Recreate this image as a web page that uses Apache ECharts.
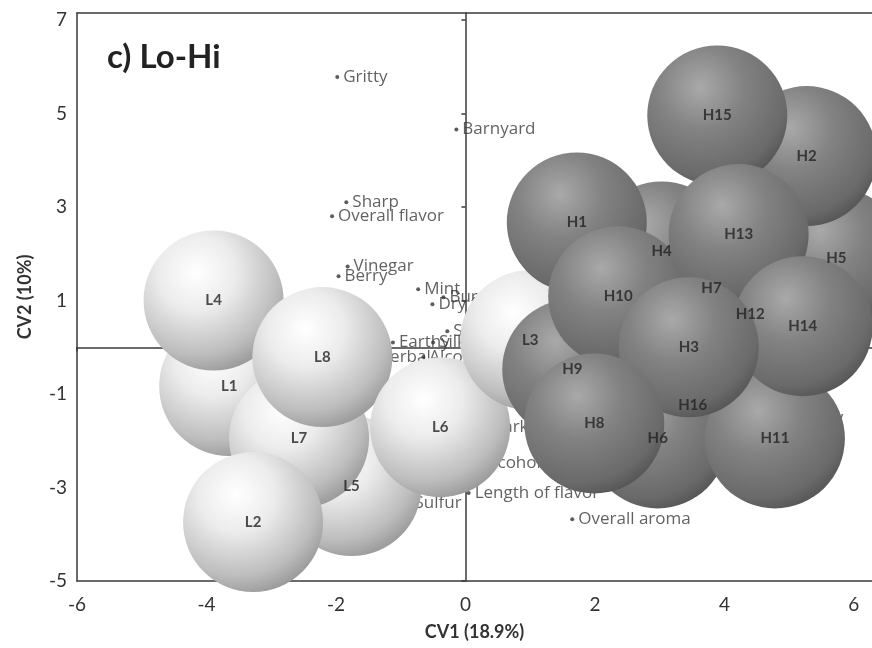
<!DOCTYPE html>
<html>
<head>
<meta charset="utf-8">
<script src="https://cdn.jsdelivr.net/npm/echarts@6/dist/echarts.min.js"></script>
<style>
  html, body { margin: 0; padding: 0; background: #fff; }
  #chart { width: 872px; height: 648px; }
</style>
</head>
<body>
<div id="chart"></div>
<script>
// low-group samples (light spheres), listed back to front
var lowNames = ['L1', 'L5', 'L7', 'L2', 'L4', 'L8', 'L6', 'L3'];
var lowX = [-3.65, -1.76, -2.57, -3.28, -3.89, -2.21, -0.39, 1.0];
var lowY = [-0.83, -2.97, -1.95, -3.74, 1.0, -0.21, -1.71, 0.15];

// high-group samples (dark spheres), listed back to front
var highNames = ['H16', 'H12', 'H7', 'H4', 'H9', 'H6', 'H5', 'H2', 'H15', 'H1', 'H10', 'H13', 'H11', 'H14', 'H3', 'H8'];
var highX = [3.51, 4.40, 3.80, 3.03, 1.65, 2.97, 5.73, 5.27, 3.89, 1.72, 2.36, 4.22, 4.78, 5.21, 3.45, 1.99];
var highY = [-1.24, 0.71, 1.26, 2.05, -0.47, -1.95, 1.90, 4.09, 4.96, 2.67, 1.09, 2.42, -1.95, 0.45, 0.0, -1.63];

// sensory attributes (small dots)
var attrNames = ['Gritty', 'Barnyard', 'Sharp', 'Overall flavor', 'Vinegar', 'Berry', 'Mint', 'Burning', 'Dry fruit',
  'Spicy', 'Earthy', 'Silky', 'Herbal', 'Alcohol', 'Caramel', 'Yeast', 'Dark fruit', 'Alcohol', 'Length of flavor',
  'Sulfur', 'Overall aroma', 'Sweet', 'Fruity'];
var attrX = [-1.98, -0.14, -1.84, -2.06, -1.82, -1.96, -0.73, -0.34, -0.51,
  -0.28, -1.12, -0.50, -1.45, -0.65, 0.33, 0.2, 0.3, 0.17, 0.05,
  -0.88, 1.65, 3.25, 5.05];
var attrY = [5.78, 4.66, 3.10, 2.80, 1.73, 1.52, 1.24, 1.07, 0.92,
  0.34, 0.10, 0.10, -0.21, -0.21, -0.60, -1.02, -1.70, -2.48, -3.12,
  -3.33, -3.68, -2.14, -1.52];

var xTicks = [-6, -4, -2, 0, 2, 4, 6];
var yTicks = [-5, -3, -1, 1, 3, 5, 7];

function pts(xs, ys) {
  var out = [];
  for (var i = 0; i < xs.length; i++) out.push([xs[i], ys[i]]);
  return out;
}

var lightBall = {
  type: 'radial', x: 0.38, y: 0.3, r: 0.78,
  colorStops: [
    { offset: 0, color: '#ffffff' },
    { offset: 0.35, color: '#ececec' },
    { offset: 0.75, color: '#bdbdbd' },
    { offset: 1, color: '#8f8f8f' }
  ]
};
var darkBall = {
  type: 'radial', x: 0.38, y: 0.3, r: 0.78,
  colorStops: [
    { offset: 0, color: '#a9a9a9' },
    { offset: 0.4, color: '#828282' },
    { offset: 0.8, color: '#6a6a6a' },
    { offset: 1, color: '#4e4e4e' }
  ]
};

var tickFont = 'Lato, "Noto Sans", sans-serif';
var axisStyle = { color: '#3a3a3a', width: 1.5 };
var XMIN = -6, XMAX = 6.28, YMIN = -5, YMAX = 7.15;

var chart = echarts.init(document.getElementById('chart'));
var option = {
  animation: false,
  title: {
    text: 'c) Lo-Hi',
    left: 102, top: 36,
    textStyle: { fontFamily: tickFont, fontSize: 33, fontWeight: 'bold', color: '#222' }
  },
  grid: { left: 77, top: 13, right: 0, bottom: 67 },
  xAxis: [{
    // bottom frame edge with labels
    type: 'value', min: XMIN, max: XMAX, position: 'bottom',
    name: 'CV1 (18.9%)', nameLocation: 'middle', nameGap: 42,
    nameTextStyle: { fontFamily: tickFont, fontSize: 18, fontWeight: 'bold', color: '#333' },
    axisLine: { show: true, onZero: false, lineStyle: axisStyle },
    axisTick: { show: false },
    splitLine: { show: false },
    axisLabel: { customValues: xTicks, fontFamily: tickFont, fontSize: 19, color: '#333', margin: 14 }
  }, {
    // horizontal line through y = 0
    type: 'value', min: XMIN, max: XMAX, position: 'bottom',
    axisLine: { show: true, onZero: true, onZeroAxisIndex: 0, lineStyle: axisStyle },
    axisTick: { show: true, customValues: xTicks, length: 4, lineStyle: axisStyle },
    axisLabel: { show: false },
    splitLine: { show: false }
  }, {
    // top frame edge
    type: 'value', min: XMIN, max: XMAX, position: 'top',
    axisLine: { show: true, onZero: false, lineStyle: axisStyle },
    axisTick: { show: false },
    axisLabel: { show: false },
    splitLine: { show: false }
  }],
  yAxis: [{
    type: 'value', min: YMIN, max: YMAX, position: 'left',
    name: 'CV2 (10%)', nameLocation: 'middle', nameGap: 43,
    nameTextStyle: { fontFamily: tickFont, fontSize: 18, fontWeight: 'bold', color: '#333' },
    axisLine: { show: true, onZero: false, lineStyle: axisStyle },
    axisTick: { show: false },
    splitLine: { show: false },
    axisLabel: { customValues: yTicks, fontFamily: tickFont, fontSize: 19, color: '#333', margin: 10 }
  }, {
    // vertical line through x = 0
    type: 'value', min: YMIN, max: YMAX, position: 'left',
    axisLine: { show: true, onZero: true, onZeroAxisIndex: 0, lineStyle: axisStyle },
    axisTick: { show: true, customValues: yTicks, length: 4, lineStyle: axisStyle },
    axisLabel: { show: false },
    splitLine: { show: false }
  }],
  series: [{
    name: 'attributes', type: 'scatter', z: 2,
    data: pts(attrX, attrY),
    symbolSize: 4,
    itemStyle: { color: '#333' },
    label: {
      show: true, position: 'right', distance: 4,
      formatter: function (p) { return attrNames[p.dataIndex]; },
      fontFamily: '"Open Sans", sans-serif', fontSize: 17, color: '#3a3a3a'
    }
  }, {
    name: 'low', type: 'scatter', z: 3,
    data: pts(lowX, lowY),
    symbolSize: 140,
    itemStyle: { color: lightBall, opacity: 1 }
  }, {
    name: 'high', type: 'scatter', z: 4,
    data: pts(highX, highY),
    symbolSize: 140,
    itemStyle: { color: darkBall, opacity: 1 }
  }, {
    name: 'low labels', type: 'scatter', z: 6,
    data: pts(lowX, lowY), symbolSize: 0,
    label: {
      show: true, position: 'inside',
      formatter: function (p) { return lowNames[p.dataIndex]; },
      fontFamily: tickFont, fontSize: 15, fontWeight: 'bold', color: '#222'
    }
  }, {
    name: 'high labels', type: 'scatter', z: 6,
    data: pts(highX, highY), symbolSize: 0,
    label: {
      show: true, position: 'inside',
      formatter: function (p) { return highNames[p.dataIndex]; },
      fontFamily: tickFont, fontSize: 15, fontWeight: 'bold', color: '#222'
    }
  }]
};
chart.setOption(option);
</script>
</body>
</html>
